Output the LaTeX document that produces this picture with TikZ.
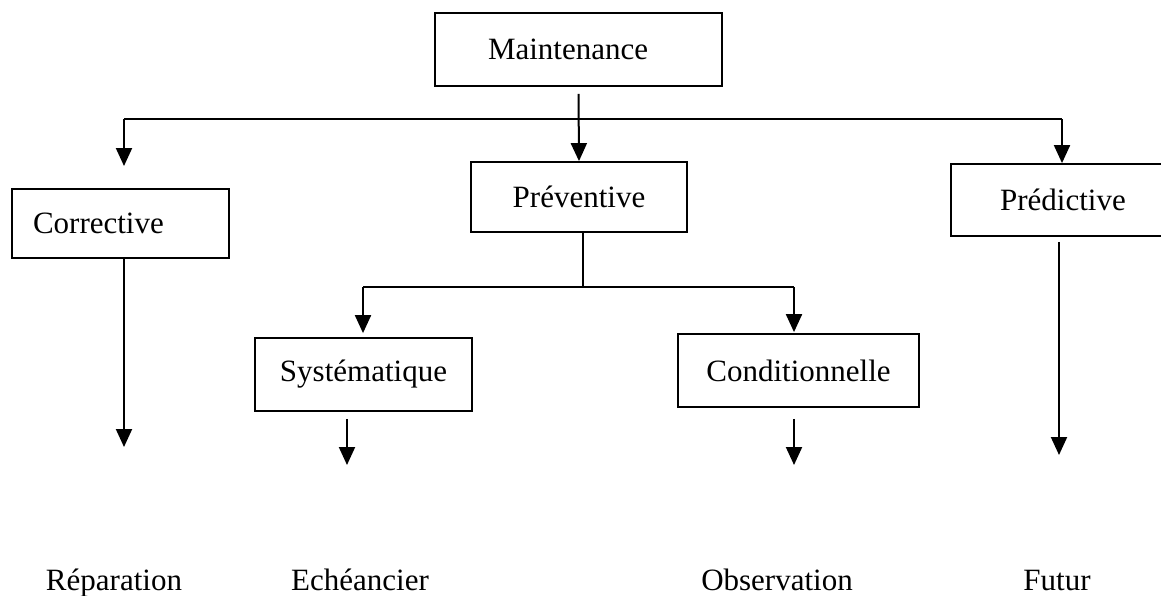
\documentclass[tikz,border=0pt]{standalone}
\usepackage{fontspec}
\setmainfont{Liberation Serif}
\usetikzlibrary{
  arrows.meta,
  positioning,
  calc
}
\definecolor{mtInk}{HTML}{000000}

\tikzset{
  mtbox/.style={draw=mtInk, line width=0.9pt, inner sep=0pt, align=center},
  mtlink/.style={draw=mtInk, line width=1pt},
  mtarrow/.style={mtlink, -{Triangle[length=9pt,width=8pt]}}
}

\begin{document}
\begin{tikzpicture}[x=0.5pt, y=-0.5pt, font=\fontsize{15.5}{18}\selectfont]
  \useasboundingbox (0,0) rectangle (1161,595);

  % boxes
  \node[mtbox, text width=90.5pt, align=left, inner xsep=26.5pt, minimum height=36.5pt] (maint) at (578.5,49.5) {Maintenance};
  \node[mtbox, minimum width=108pt, minimum height=35pt] (prev) at (579,197) {Préventive};
  \node[mtbox, text width=87.5pt, align=left, inner xsep=10.5pt, minimum height=34.5pt] (corr) at (120.5,223.5) {Corrective};
  \node[mtbox, minimum width=112pt, minimum height=36pt] (pred) at (1063,200) {Prédictive};
  \node[mtbox, minimum width=108.5pt, minimum height=36.5pt] (syst) at (363.5,374.5) {Systématique};
  \node[mtbox, minimum width=120.5pt, minimum height=36.5pt] (cond) at (798.5,370.5) {Conditionnelle};

  % outcomes
  \node[anchor=base] (rep) at (114,590) {Réparation};
  \node[anchor=base] (ech) at (360,590) {Echéancier};
  \node[anchor=base] (obs) at (777,590) {Observation};
  \node[anchor=base] (fut) at (1057,590) {Futur};

  % first level
  \coordinate (busL) at (124,119);
  \coordinate (busR) at (1062,119);
  \coordinate (corrIn) at (124,166);
  \draw[mtarrow] ($(maint.south)+(0,7)$) -- (prev.north);
  \draw[mtlink] (busL) -- (busR);
  \draw[mtarrow] (busL) -- (corrIn);
  \draw[mtarrow] (busR) -- (busR |- pred.north);

  % second level
  \coordinate (subL) at (363,287);
  \coordinate (subR) at (794,287);
  \draw[mtlink] ([xshift=2pt]prev.south) -- ([xshift=2pt]prev.south |- subL);
  \draw[mtlink] (subL) -- (subR);
  \draw[mtarrow, shorten >=2pt] (subL) -- (subL |- syst.north);
  \draw[mtarrow, shorten >=0.5pt] (subR) -- (subR |- cond.north);

  % towards the outcomes
  \coordinate (repTip) at (124,447);
  \coordinate (echTip) at (347,465);
  \coordinate (obsTip) at (794,465);
  \coordinate (futTip) at (1059,455);
  \draw[mtarrow] (corr.south -| repTip) -- (repTip);
  \draw[mtarrow] ($(syst.south -| echTip)+(0,7)$) -- (echTip);
  \draw[mtarrow] ($(cond.south -| obsTip)+(0,11)$) -- (obsTip);
  \draw[mtarrow] ($(pred.south -| futTip)+(0,5)$) -- (futTip);
\end{tikzpicture}
\end{document}
